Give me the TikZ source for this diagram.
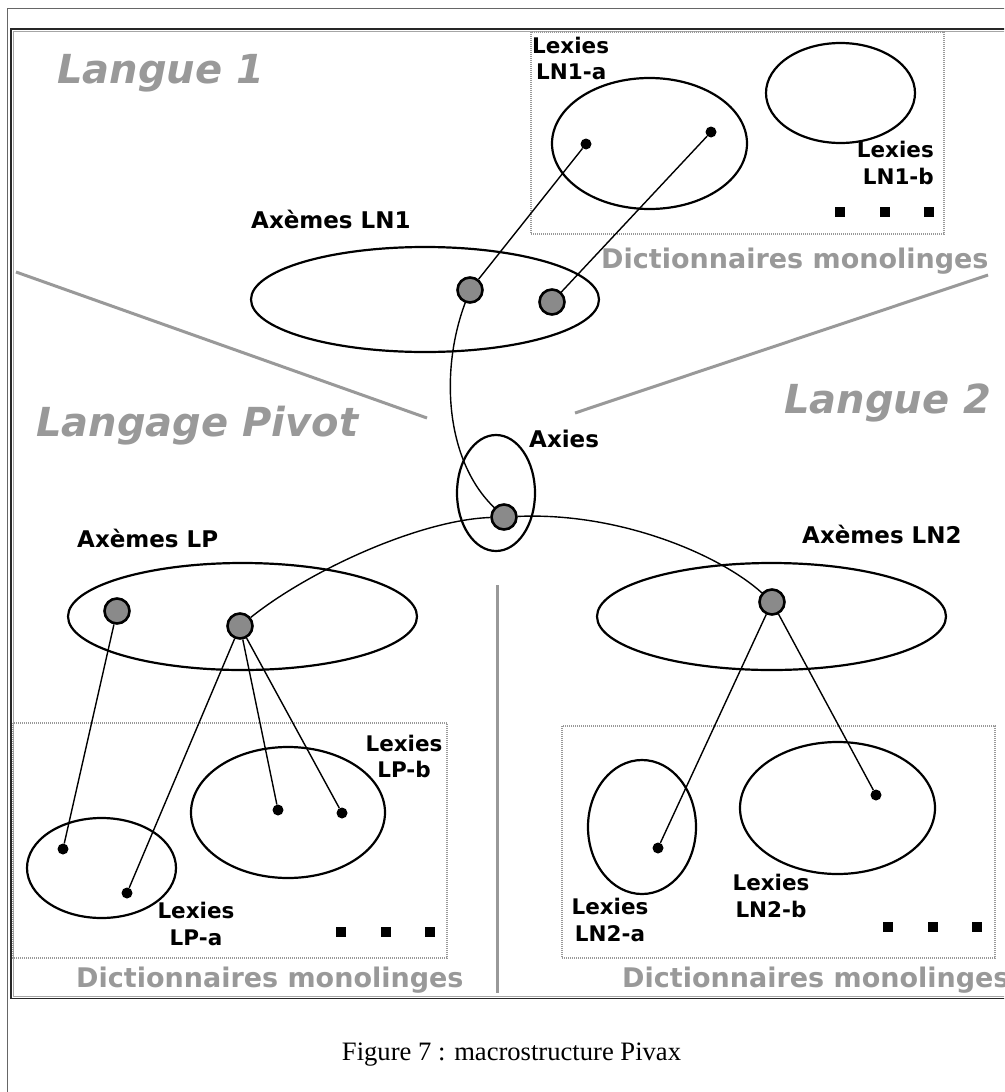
\documentclass[tikz,border=0pt]{standalone}
\usepackage{fontspec}
\setmainfont{DejaVu Sans}
\newfontfamily\capfont{Liberation Serif}
\usetikzlibrary{shapes.geometric}
\definecolor{lgray}{HTML}{999999}
\definecolor{hubgray}{HTML}{8A8A8A}

\begin{document}
\begin{tikzpicture}[x=1pt,y=-1pt,
  ell/.style={ellipse, draw=black, line width=2.2pt, inner sep=0pt},
  hub/.style={circle, draw=black, fill=hubgray, line width=2.6pt, minimum size=25pt, inner sep=0pt},
  lex/.style={circle, fill=black, minimum size=11pt, inner sep=0pt},
  link/.style={line width=1.4pt},
  sepline/.style={draw=lgray, line width=3pt},
  dictbox/.style={draw=lgray, line width=2.2pt, dash pattern=on 1pt off 1pt},
  sq/.style={fill=black, minimum size=10pt, inner sep=0pt},
  zone/.style={font=\fontsize{40}{48}\selectfont\bfseries\itshape, text=lgray, anchor=base west, inner sep=0pt},
  lbl/.style={font=\fontsize{23}{27}\selectfont\bfseries, anchor=base west, inner sep=0pt},
  lexlbl/.style={font=\fontsize{21.5}{26}\selectfont\bfseries, inner sep=0pt, anchor=base},
  dict/.style={font=\fontsize{27}{31}\selectfont\bfseries, text=lgray, anchor=base west, inner sep=0pt},
]
\useasboundingbox (0,0) rectangle (1004,1092);
\clip (0,0) rectangle (1004,1092);
\fill[white] (0,0) rectangle (1004,1092);

% page frame and figure frame
\draw[draw=black!60, line width=1pt] (1010,8) -- (7.5,8) -- (7.5,1100);
\draw[draw=black!85, line width=1.8pt] (1010,29) -- (11,29) -- (11,998.5) -- (1010,998.5);
\draw[draw=black!35, line width=0.8pt] (1010,31.5) -- (13.5,31.5) -- (13.5,996) -- (1010,996);

% zone separators
\draw[sepline] (16,272) -- (427,418);
\draw[sepline] (575,413) -- (988,275);
\draw[sepline] (497,585) -- (497,993);

% monolingual dictionary boxes
\draw[dictbox] (531,32) rectangle (944,234);
\draw[dictbox] (13,723) rectangle (447,958);
\draw[dictbox] (562,726) rectangle (995,958);

% zone titles
\node[zone] (tL1) at (57,83) {Langue 1};
\node[zone] (tLP) at (36,436) {Langage Pivot};
\node[zone] (tL2) at (784,413) {Langue 2};

\node[dict] (dTop) at (601,268) {Dictionnaires monolinges};
\node[dict] (dLP) at (76,987) {Dictionnaires monolinges};
\node[dict] (dLN2) at (622,987) {Dictionnaires monolinges};

% sets
\node[ell, minimum width=348pt, minimum height=105pt] (eLN1) at (425,299.5) {};
\node[ell, minimum width=195pt, minimum height=131pt] (eLN1a) at (649.5,143.5) {};
\node[ell, minimum width=149pt, minimum height=100pt] (eLN1b) at (840.5,93) {};
\node[ell, minimum width=78pt, minimum height=116pt] (eAx) at (496,493) {};
\node[ell, minimum width=349pt, minimum height=107pt] (eLP) at (242.5,616.5) {};
\node[ell, minimum width=349pt, minimum height=107pt] (eLN2) at (771.5,616.5) {};
\node[ell, minimum width=149pt, minimum height=100pt] (eLPa) at (101.5,868) {};
\node[ell, minimum width=194pt, minimum height=131pt] (eLPb) at (288,812.5) {};
\node[ell, minimum width=108pt, minimum height=134pt] (eLN2a) at (642,827) {};
\node[ell, minimum width=195pt, minimum height=132pt] (eLN2b) at (837.5,808) {};

% set labels
\node[lbl] (lAxLN1) at (251,228) {Axèmes LN1};
\node[lbl] (lAxies) at (529,447) {Axies};
\node[lbl] (lAxLP) at (77,547) {Axèmes LP};
\node[lbl] (lAxLN2) at (802,543) {Axèmes LN2};

\node[lexlbl, anchor=base west] (lLN1a1) at (532,53) {Lexies};
\node[lexlbl, anchor=base west] (lLN1a2) at (536,79) {LN1-a};
\node[lexlbl, anchor=base east] (lLN1b1) at (934,157) {Lexies};
\node[lexlbl, anchor=base east] (lLN1b2) at (934,184) {LN1-b};
\node[lexlbl] (lLPb1) at (404,751) {Lexies};
\node[lexlbl] (lLPb2) at (404,777) {LP-b};
\node[lexlbl] (lLPa1) at (196,918) {Lexies};
\node[lexlbl] (lLPa2) at (196,945) {LP-a};
\node[lexlbl] (lLN2a1) at (610,914) {Lexies};
\node[lexlbl] (lLN2a2) at (610,941) {LN2-a};
\node[lexlbl] (lLN2b1) at (771,890) {Lexies};
\node[lexlbl] (lLN2b2) at (771,917) {LN2-b};

% axemes and axie
\node[hub] (hLN1a) at (470,290) {};
\node[hub] (hLN1b) at (552,302) {};
\node[hub] (hAx) at (504,517) {};
\node[hub] (hLPa) at (117,611) {};
\node[hub] (hLPb) at (240,626) {};
\node[hub] (hLN2) at (772,602) {};

% lexies
\node[lex] (xLN1a) at (586,144) {};
\node[lex] (xLN1b) at (711,132) {};
\node[lex] (xLPa1) at (63,849) {};
\node[lex] (xLPa2) at (127,893) {};
\node[lex] (xLPb1) at (278,810) {};
\node[lex] (xLPb2) at (342,813) {};
\node[lex] (xLN2a) at (658,848) {};
\node[lex] (xLN2b) at (876,795) {};

% links
\draw[link] (hLN1a) -- (xLN1a);
\draw[link] (hLN1b) -- (xLN1b);
\draw[link] (hLN1a) .. controls (440,370) and (445,460) .. (hAx);
\draw[link] (hAx) .. controls (420,520) and (310,570) .. (hLPb);
\draw[link] (hAx) .. controls (620,512) and (720,555) .. (hLN2);
\draw[link] (hLPa) -- (xLPa1);
\draw[link] (hLPb) -- (xLPa2);
\draw[link] (hLPb) -- (xLPb1);
\draw[link] (hLPb) -- (xLPb2);
\draw[link] (hLN2) -- (xLN2a);
\draw[link] (hLN2) -- (xLN2b);

% ellipsis marks
\node[sq] (sqT1) at (840,212) {};
\node[sq] (sqT2) at (885,212) {};
\node[sq] (sqT3) at (929,212) {};
\node[sq] (sqL1) at (341,932) {};
\node[sq] (sqL2) at (386,932) {};
\node[sq] (sqL3) at (430,932) {};
\node[sq] (sqR1) at (888,927) {};
\node[sq] (sqR2) at (933,927) {};
\node[sq] (sqR3) at (977,927) {};

% caption
\node[font=\capfont\fontsize{26.6}{31}\selectfont, anchor=base, inner sep=0pt] (cap) at (511.5,1060) {Figure 7 : macrostructure Pivax};
\end{tikzpicture}
\end{document}
